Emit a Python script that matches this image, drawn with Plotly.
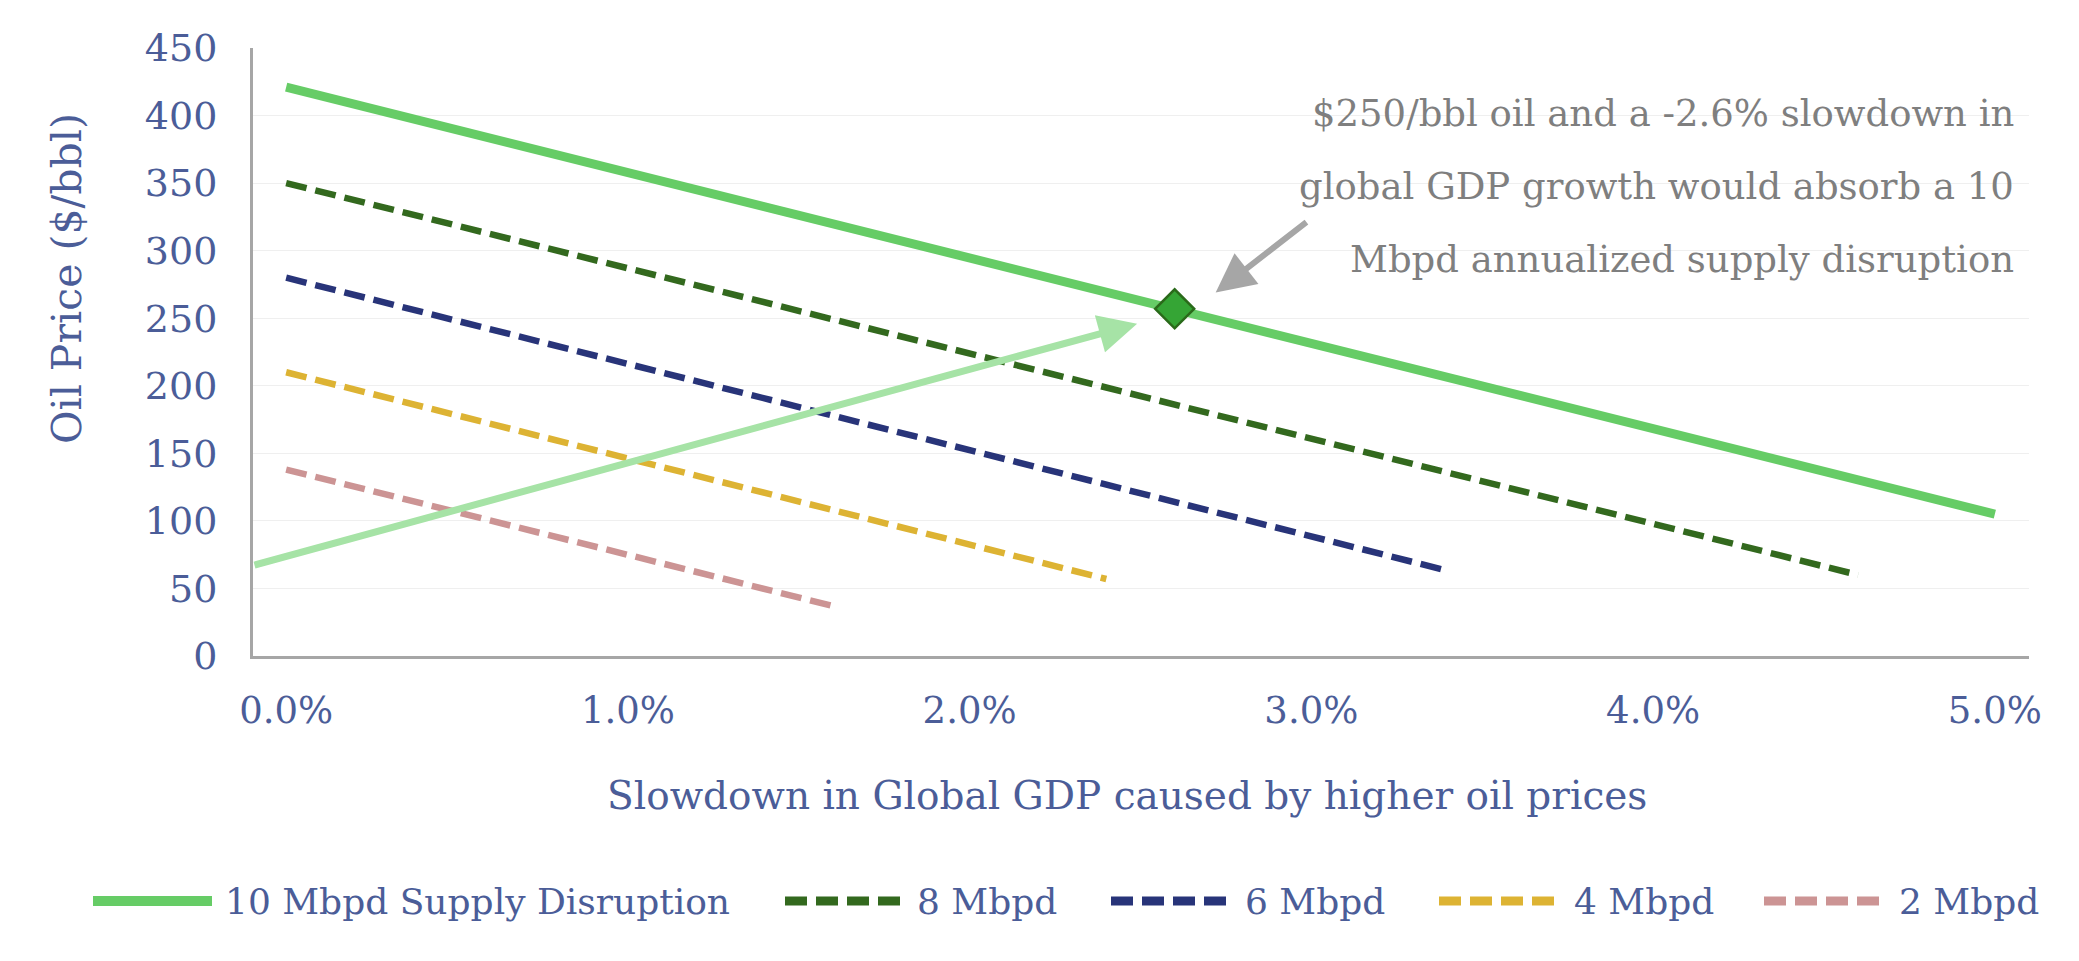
import plotly.graph_objects as go

# ---------------- data ----------------
series_names = ["10 Mbpd Supply Disruption", "8 Mbpd", "6 Mbpd", "4 Mbpd", "2 Mbpd"]
slowdown_10 = [0.0, 5.0]
price_10 = [421, 105]
slowdown_8 = [0.0, 4.6]
price_8 = [350, 60]
slowdown_6 = [0.0, 3.4]
price_6 = [280, 63]
slowdown_4 = [0.0, 2.4]
price_4 = [210, 57]
slowdown_2 = [0.0, 1.6]
price_2 = [138, 37]

highlight_x = [2.6]
highlight_y = [257]

path_arrow_x = [-0.097, 2.49]   # light green arrow tail/head (data units)
path_arrow_y = [67, 246]
callout_arrow_x = [2.99, 2.72]  # grey arrow tail/head
callout_arrow_y = [322, 269]

x_tickvals = [0, 1, 2, 3, 4, 5]
x_ticktext = ["0.0%", "1.0%", "2.0%", "3.0%", "4.0%", "5.0%"]
y_tickvals = [0, 50, 100, 150, 200, 250, 300, 350, 400, 450]

note_lines = ["$250/bbl oil and a -2.6% slowdown in",
              "global GDP growth would absorb a 10",
              "Mbpd annualized supply disruption"]
x_title = "Slowdown in Global GDP caused by higher oil prices"
y_title = "Oil Price ($/bbl)"

# ---------------- style ----------------
FONT = "DejaVu Serif"
BLUE_TXT = "#4B5D98"
colors = ["#66CC66", "#33691E", "#283479", "#DDB333", "#CC9494"]
widths = [9, 6.5, 6.5, 6.5, 6.5]
dashes = ["solid", "21px,9px", "21px,9px", "21px,9px", "21px,9px"]

W, H = 2079, 961
L, R, T, B = 253, 2029, 48, 656


def px_x(p):
    return (p - L) / (R - L)


def px_y(p):
    return (B - p) / (B - T)


xs = [slowdown_10, slowdown_8, slowdown_6, slowdown_4, slowdown_2]
ys = [price_10, price_8, price_6, price_4, price_2]

fig = go.Figure()
for name, x, y, c, w, d in zip(series_names, xs, ys, colors, widths, dashes):
    fig.add_trace(go.Scatter(x=x, y=y, mode="lines", name=name,
                             line=dict(color=c, width=w, dash=d),
                             showlegend=False))

fig.add_trace(go.Scatter(x=highlight_x, y=highlight_y, mode="markers",
                         marker=dict(symbol="diamond", size=30, color="#35A535",
                                     line=dict(color="#2A6A1A", width=2.5)),
                         showlegend=False))

annotations = []
# light green arrow
annotations.append(dict(x=path_arrow_x[1], y=path_arrow_y[1], ax=path_arrow_x[0], ay=path_arrow_y[0],
                        xref="x", yref="y", axref="x", ayref="y", text="", showarrow=True,
                        arrowhead=2, arrowsize=1.1, arrowwidth=7, arrowcolor="#A6E3A6", standoff=0))
# grey callout arrow
annotations.append(dict(x=callout_arrow_x[1], y=callout_arrow_y[1], ax=callout_arrow_x[0], ay=callout_arrow_y[0],
                        xref="x", yref="y", axref="x", ayref="y", text="", showarrow=True,
                        arrowhead=2, arrowsize=1.3, arrowwidth=6, arrowcolor="#A6A6A6", standoff=0))
# note text
for line, py in zip(note_lines, [114, 186, 259]):
    annotations.append(dict(x=px_x(2016), y=px_y(py), xref="paper", yref="paper",
                            xanchor="right", yanchor="middle", showarrow=False, text=line,
                            font=dict(family=FONT, size=37, color="#7F7F7F")))
# axis titles
annotations.append(dict(x=px_x(67), y=px_y(279), xref="paper", yref="paper", textangle=-90,
                        xanchor="center", yanchor="middle", showarrow=False, text=y_title,
                        font=dict(family=FONT, size=41, color=BLUE_TXT)))
annotations.append(dict(x=px_x(1127), y=px_y(795), xref="paper", yref="paper",
                        xanchor="center", yanchor="middle", showarrow=False, text=x_title,
                        font=dict(family=FONT, size=39, color=BLUE_TXT)))

# custom legend
shapes = []
leg_y = 901
sym_pos = [(93, 212, 223), (785, 902, 915), (1111, 1231, 1243), (1439, 1558, 1572), (1764, 1883, 1897)]
for name, c, d, (x0, x1, tx) in zip(series_names, colors, dashes, sym_pos):
    shapes.append(dict(type="line", xref="paper", yref="paper",
                       x0=px_x(x0), x1=px_x(x1), y0=px_y(leg_y), y1=px_y(leg_y),
                       line=dict(color=c, width=10 if d == "solid" else 9,
                                 dash="solid" if d == "solid" else "22px,9px")))
    annotations.append(dict(x=px_x(tx), y=px_y(leg_y), xref="paper", yref="paper",
                            xanchor="left", yanchor="middle", showarrow=False, text=name,
                            font=dict(family=FONT, size=36, color=BLUE_TXT)))

fig.update_layout(
    width=W, height=H,
    margin=dict(l=L, r=W - R, t=T, b=H - B, pad=0),
    paper_bgcolor="white", plot_bgcolor="white",
    font=dict(family=FONT, size=37, color=BLUE_TXT),
    annotations=annotations, shapes=shapes,
    showlegend=False,
)
fig.update_xaxes(range=[-0.097, 5.10], tickmode="array", tickvals=x_tickvals, ticktext=x_ticktext,
                 showgrid=False, zeroline=False, showline=True, linecolor="#A6A6A6", linewidth=3,
                 ticks="", ticklabelstandoff=20,
                 tickfont=dict(family=FONT, size=37, color=BLUE_TXT))
fig.update_yaxes(range=[0, 450], tickvals=y_tickvals, showgrid=True, gridcolor="#EFEFEF", gridwidth=1,
                 zeroline=False, showline=True, linecolor="#A6A6A6", linewidth=3,
                 ticks="", ticklabelstandoff=25,
                 tickfont=dict(family=FONT, size=38, color=BLUE_TXT))

fig.write_html("out.html")
